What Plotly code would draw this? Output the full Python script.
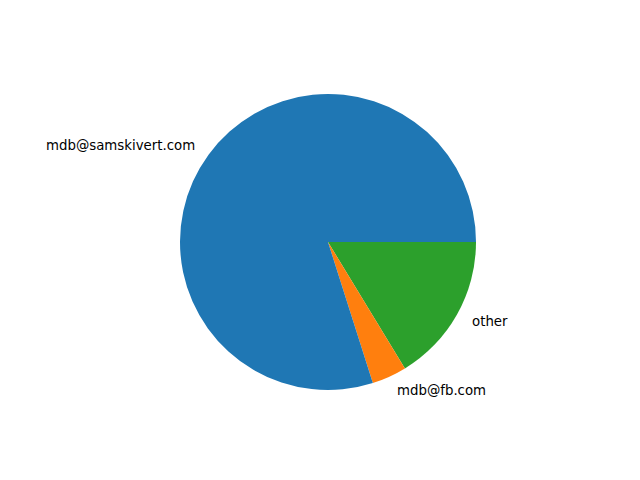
import math
import plotly.graph_objects as go

labels = ["mdb@samskivert.com", "mdb@fb.com", "other"]
values = [79.9, 3.8, 16.3]
colors = ["#1f77b4", "#ff7f0e", "#2ca02c"]

W, H = 640, 480
cx, cy, R = 328, 242, 148  # pie centre and radius in pixels

# matplotlib draws counterclockwise from 3 o'clock; equivalently draw the
# reversed order clockwise from 3 o'clock
fig = go.Figure(go.Pie(
    labels=labels[::-1], values=values[::-1], sort=False, direction="clockwise",
    rotation=90, textinfo="none",
    marker=dict(colors=colors[::-1], line=dict(width=0)),
    domain=dict(x=[(cx - R) / W, (cx + R) / W],
                y=[(H - cy - R) / H, (H - cy + R) / H]),
    showlegend=False, hoverinfo="label+percent",
))

# labels at 1.1 * radius at each wedge's mid-angle, like matplotlib
total = sum(values)
start = 0.0
for lab, v in zip(labels, values):
    theta = 2 * math.pi * (start + v / 2) / total
    start += v
    x = math.cos(theta)
    y = math.sin(theta)
    fig.add_annotation(
        x=(cx + 1.1 * R * x) / W, y=(H - cy + 1.1 * R * y) / H,
        xref="paper", yref="paper", text=lab, showarrow=False,
        xanchor="left" if x > 0 else "right", yanchor="middle",
        font=dict(family="DejaVu Sans", size=13.33, color="black"),
    )

fig.update_layout(width=W, height=H, margin=dict(l=0, r=0, t=0, b=0),
                  paper_bgcolor="white", plot_bgcolor="white")
fig.write_html("out.html")
